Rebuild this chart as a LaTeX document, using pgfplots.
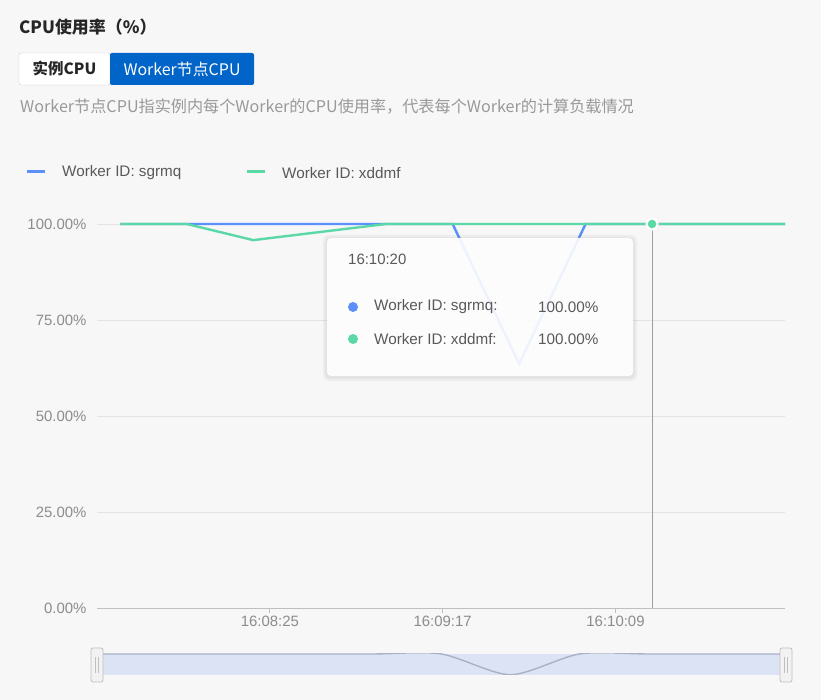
\documentclass[border=0pt]{standalone}
\usepackage{pgfplots}
\pgfplotsset{compat=1.18}
\usepackage{pgfplotstable}
\usepackage{fontspec}
\setmainfont{Liberation Sans}
\newfontfamily\cjk{Noto Sans CJK SC}
\definecolor{bg}{HTML}{F7F7F7}
\definecolor{cblue}{HTML}{5B8FF9}
\definecolor{cgreen}{HTML}{5AD8A6}
\definecolor{tickc}{HTML}{8C8C8C}
\definecolor{gridc}{HTML}{E3E3E3}
\definecolor{axisc}{HTML}{BFBFBF}
\definecolor{txt}{HTML}{595959}
\definecolor{btn}{HTML}{0064C8}
\definecolor{slfill}{HTML}{DCE3F4}
\definecolor{slline}{HTML}{A9B1C5}

\pgfplotstableread{
t blue green
40 100 100
60 100 100
80 100 95.8
100 100 97.9
120 100 100
140 100 100
160 63.6 100
180 100 100
200 100 100
220 100 100
240 100 100
}\cpudata

\begin{document}
\begin{tikzpicture}[x=1bp,y=1bp]
\fill[bg] (0,0) rectangle (821,700);
% title
\node[anchor=west, inner sep=0, font=\cjk\bfseries\fontsize{17}{20}\selectfont, text=black!85] at (19,673) {CPU使用率（\%）};
% buttons
\draw[fill=white, draw=black!20, rounded corners=2bp] (19,647) rectangle (110,615);
\node[font=\cjk\bfseries\fontsize{15.5}{18}\selectfont, text=black!85] at (64.5,631) {实例CPU};
\fill[btn, rounded corners=2bp] (110,647) rectangle (254,615);
\node[font=\cjk\fontsize{16}{18}\selectfont, text=white] at (182,631) {Worker节点CPU};
% description
\node[anchor=west, inner sep=0, font=\cjk\fontsize{16.2}{19}\selectfont, text=black!40] at (20,593) {Worker节点CPU指实例内每个Worker的CPU使用率，代表每个Worker的计算负载情况};
% legend
\draw[cblue, line width=3bp] (27,528) -- (45,528);
\node[anchor=west, inner sep=0, font=\fontsize{15.3}{18}\selectfont, text=txt] at (62,527) {Worker ID: sgrmq};
\draw[cgreen, line width=3bp] (247,528) -- (265,528);
\node[anchor=west, inner sep=0, font=\fontsize{15.3}{18}\selectfont, text=txt] at (282,527) {Worker ID: xddmf};

\begin{axis}[at={(97bp,92bp)}, anchor=south west, scale only axis,
  width=688bp, height=384bp,
  xmin=33, xmax=240, ymin=0, ymax=100,
  xtick={85,137,189}, xticklabels={16:08:25,16:09:17,16:10:09},
  ytick={0,25,50,75,100}, yticklabels={0.00\%,25.00\%,50.00\%,75.00\%,100.00\%},
  axis x line*=bottom, axis y line*=left,
  y axis line style={draw=none},
  x axis line style={axisc, line width=0.8bp, -},
  ymajorgrids, grid style={gridc, line width=0.8bp},
  xtick style={axisc, line width=0.8bp}, tick align=outside, major tick length=5bp,
  ytick style={draw=none},
  tick label style={text=tickc, font=\fontsize{15}{17}\selectfont},
  yticklabel style={xshift=-2bp},
  /pgf/number format/assume math mode=true,
  clip=false,
]
\addplot[cblue, line width=2.4bp] table[x=t,y=blue]{\cpudata};
\addplot[cgreen, line width=2.4bp] table[x=t,y=green]{\cpudata};
\addplot[color=black!38, line width=1bp] coordinates {(200,0) (200,100)};
\addplot[only marks, mark=*, mark size=5.5bp, mark options={fill=cgreen, draw=white, line width=2bp}] coordinates {(200,100)};
\end{axis}

% tooltip
\fill[black, opacity=0.04, rounded corners=6bp] (323,465) rectangle (637,319);
\fill[black, opacity=0.04, rounded corners=5bp] (325,463) rectangle (635,321);
\fill[white, fill opacity=0.9, rounded corners=4bp] (327,462) rectangle (633,324);
\node[anchor=west, inner sep=0, font=\fontsize{15}{18}\selectfont, text=txt] at (348,441) {16:10:20};
\fill[cblue] (353,393) circle (5bp);
\fill[cgreen] (353,361) circle (5bp);
\node[anchor=west, inner sep=0, font=\fontsize{15.3}{18}\selectfont, text=txt] at (374,393) {Worker ID: sgrmq:};
\node[anchor=west, inner sep=0, font=\fontsize{15.3}{18}\selectfont, text=txt] at (374,361) {Worker ID: xddmf:};
\node[anchor=west, inner sep=0, font=\fontsize{15.3}{18}\selectfont, text=txt] at (538,393) {100.00\%};
\node[anchor=west, inner sep=0, font=\fontsize{15.3}{18}\selectfont, text=txt] at (538,361) {100.00\%};

% slider
\fill[slfill] (97,25) rectangle (786,46);
\begin{axis}[at={(97bp,25bp)}, anchor=south west, scale only axis,
  width=689bp, height=21bp, xmin=40, xmax=240, ymin=63.2, ymax=100, hide axis]
\addplot[slline, line width=1.4bp, smooth, tension=0.45] table[x=t,y=blue]{\cpudata};
\end{axis}
\foreach \hx in {97,786}{
  \draw[fill=black!5, draw=black!25, line width=0.8bp, rounded corners=2bp] (\hx-6,52) rectangle (\hx+6,18);
  \draw[black!25, line width=0.8bp] (\hx-1.5,27) -- (\hx-1.5,43);
  \draw[black!25, line width=0.8bp] (\hx+1.5,27) -- (\hx+1.5,43);
}
\end{tikzpicture}
\end{document}
